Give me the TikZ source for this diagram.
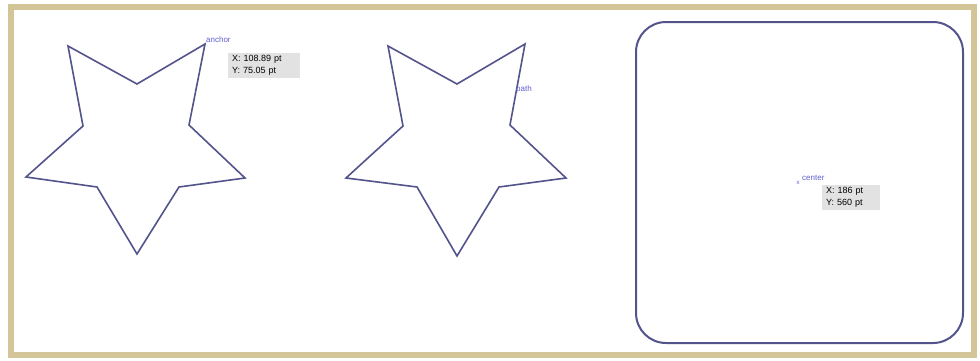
\documentclass[tikz,border=0pt]{standalone}
\usepackage{fontspec}
\setmainfont{Liberation Sans}
\usetikzlibrary{positioning}

\definecolor{frametan}{RGB}{212,197,152}
\definecolor{pathblue}{RGB}{84,84,140}
\definecolor{labelblue}{RGB}{96,96,210}
\definecolor{infogray}{RGB}{226,226,226}

\begin{document}
\begin{tikzpicture}[
    x=1pt, y=-1pt,
    % --- Shape styles ---
    starpath/.style = {draw=pathblue, line width=1.6pt, line join=miter},
    boxpath/.style = {draw=pathblue, line width=2pt, rounded corners=30pt},
    % --- Label styles ---
    tag/.style = {text=labelblue, font=\fontsize{8}{9}\selectfont, inner sep=1pt},
    info/.style = {rectangle, fill=infogray, draw=none, align=left,
        font=\fontsize{9}{12}\selectfont, inner xsep=4pt, inner ysep=2.5pt,
        text width=#1}
]

\useasboundingbox (0,0) rectangle (980,360);

% ==================== FRAME ====================
\fill[white] (0,0) rectangle (980,360);
\draw[frametan, line width=6pt] (11,7) rectangle (974,355);

% ==================== STAR 1 ====================
\draw[starpath] (68,46) -- (137,84) -- (205,44) -- (189,125) -- (245,178)
    -- (179,187) -- (137,254) -- (97,187) -- (26,177) -- (83,126) -- cycle;
\coordinate (anchorpt) at (205,44);
\node[tag, anchor=south west] (anchorlbl) at (anchorpt) {anchor};
\node[info=64pt, anchor=north west] (anchorinfo) at (228,53) {X: 108.89 pt\\Y: 75.05 pt};

% ==================== STAR 2 ====================
\draw[starpath] (388,46) -- (457,84) -- (525,44) -- (510,125) -- (566,178)
    -- (499,187) -- (457,256) -- (417,187) -- (346,178) -- (403,126) -- cycle;
\node[tag, anchor=south west] (pathlbl) at (515,94) {path};

% ==================== ROUNDED BOX ====================
\draw[boxpath] (636,22) rectangle (963,343);
\node[tag, font=\fontsize{6}{7}\selectfont] (centerpt) at (798,183) {x};
\node[tag, anchor=south west] (centerlbl) at (801,182) {center};
\node[info=50pt, anchor=north west] (centerinfo) at (822,185) {X: 186 pt\\Y: 560 pt};

\end{tikzpicture}
\end{document}
